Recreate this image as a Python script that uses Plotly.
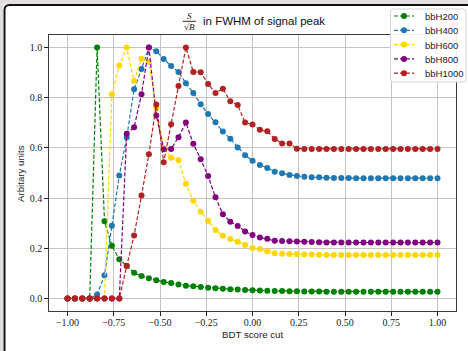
import plotly.graph_objects as go

# BDT score cut grid
bdt_cut = [-1.00, -0.96, -0.92, -0.88, -0.84, -0.80, -0.76, -0.72, -0.68, -0.64,
           -0.60, -0.56, -0.52, -0.48, -0.44, -0.40, -0.36, -0.32, -0.28, -0.24,
           -0.20, -0.16, -0.12, -0.08, -0.04, 0.00, 0.04, 0.08, 0.12, 0.16,
           0.20, 0.24, 0.28, 0.32, 0.36, 0.40, 0.44, 0.48, 0.52, 0.56,
           0.60, 0.64, 0.68, 0.72, 0.76, 0.80, 0.84, 0.88, 0.92, 0.96, 1.00]

# normalised S/sqrt(B) per signal mass point
bbH200 = [0, 0, 0, 0, 1.0, 0.308, 0.21, 0.156, 0.13, 0.102,
          0.089, 0.081, 0.073, 0.066, 0.062, 0.056, 0.051, 0.049, 0.046, 0.043,
          0.041, 0.039, 0.037, 0.036, 0.034, 0.033, 0.032, 0.031, 0.030, 0.030,
          0.029, 0.029, 0.028, 0.028, 0.028, 0.027, 0.027, 0.027, 0.027, 0.027,
          0.027, 0.027, 0.027, 0.027, 0.027, 0.027, 0.027, 0.027, 0.027, 0.027, 0.027]

bbH400 = [0, 0, 0, 0, 0.016, 0.092, 0.29, 0.49, 0.641, 0.834,
          0.914, 1.0, 0.985, 0.954, 0.926, 0.903, 0.858, 0.819, 0.774, 0.735,
          0.702, 0.665, 0.637, 0.602, 0.571, 0.549, 0.532, 0.52, 0.505, 0.499,
          0.492, 0.488, 0.485, 0.483, 0.483, 0.481, 0.480, 0.480, 0.480, 0.479,
          0.479, 0.479, 0.479, 0.479, 0.479, 0.479, 0.479, 0.479, 0.479, 0.479, 0.479]

bbH600 = [0, 0, 0, 0, 0, 0, 0.814, 0.928, 1.0, 0.867,
          0.955, 0.942, 0.761, 0.599, 0.561, 0.551, 0.457, 0.389, 0.346, 0.31,
          0.273, 0.25, 0.237, 0.226, 0.213, 0.201, 0.197, 0.188, 0.18, 0.178,
          0.177, 0.176, 0.175, 0.175, 0.174, 0.173, 0.173, 0.173, 0.173, 0.173,
          0.173, 0.173, 0.173, 0.173, 0.173, 0.173, 0.173, 0.173, 0.173, 0.173, 0.173]

bbH800 = [0, 0, 0, 0, 0, 0, 0, 0, 0.656, 0.682,
          0.814, 1.0, 0.729, 0.595, 0.596, 0.642, 0.701, 0.617, 0.555, 0.488,
          0.403, 0.336, 0.306, 0.289, 0.267, 0.253, 0.243, 0.238, 0.230, 0.229,
          0.228, 0.227, 0.226, 0.225, 0.224, 0.223, 0.223, 0.223, 0.223, 0.223,
          0.223, 0.223, 0.223, 0.223, 0.223, 0.223, 0.223, 0.223, 0.223, 0.223, 0.223]

bbH1000 = [0, 0, 0, 0, 0, 0, 0, 0, 0.129, 0.251,
           0.41, 0.575, 0.773, 0.543, 0.694, 0.847, 1.0, 0.903, 0.902, 0.855,
           0.819, 0.836, 0.786, 0.771, 0.701, 0.693, 0.672, 0.666, 0.636, 0.618,
           0.618, 0.597, 0.596, 0.596, 0.596, 0.596, 0.596, 0.596, 0.596, 0.596,
           0.596, 0.596, 0.596, 0.596, 0.596, 0.596, 0.596, 0.596, 0.596, 0.596, 0.596]

series = [("bbH200", bbH200, "#008000"),
          ("bbH400", bbH400, "#1f77b4"),
          ("bbH600", bbH600, "#FFD700"),
          ("bbH800", bbH800, "#800080"),
          ("bbH1000", bbH1000, "#B22222")]

x_ticks = [-1.0, -0.75, -0.5, -0.25, 0.0, 0.25, 0.5, 0.75, 1.0]
x_ticktext = ["\u22121.00", "\u22120.75", "\u22120.50", "\u22120.25", "0.00",
              "0.25", "0.50", "0.75", "1.00"]
y_ticks = [0.0, 0.2, 0.4, 0.6, 0.8, 1.0]

W, H = 468, 351
L, R, T, B = 49, 12, 35, 40
PW, PH = W - L - R, H - T - B
DASH = "4px,2px"


def px(xpix):
    return (xpix - L) / PW


def py(ypix):
    return (H - B - ypix) / PH


fig = go.Figure()
for name, vals, col in series:
    fig.add_trace(go.Scatter(
        x=bdt_cut, y=vals, name=name, mode="lines+markers",
        line=dict(color=col, width=1.2, dash=DASH),
        marker=dict(color=col, size=6, line=dict(width=0)),
    ))

serif = "Liberation Serif"
sans = "Liberation Sans"

fig.update_layout(
    width=W, height=H,
    margin=dict(l=L, r=R, t=T, b=B, pad=0),
    paper_bgcolor="white", plot_bgcolor="white",
    showlegend=False,
    xaxis=dict(
        range=[-1.1, 1.1], tickvals=x_ticks, ticktext=x_ticktext,
        showgrid=True, gridcolor="#c4c4c4", gridwidth=1, zeroline=False,
        showline=True, mirror=True, linecolor="#3a3a3a", linewidth=1.3,
        ticks="outside", ticklen=3.5, tickwidth=0.8, tickcolor="#222",
        ticklabelstandoff=-2,
        tickfont=dict(family=serif, size=10, color="#222"),
    ),
    yaxis=dict(
        range=[-0.05, 1.05], tickvals=y_ticks, tickformat=".1f",
        showgrid=True, gridcolor="#c4c4c4", gridwidth=1, zeroline=False,
        showline=True, mirror=True, linecolor="#3a3a3a", linewidth=1.3,
        ticks="outside", ticklen=3.5, tickwidth=0.8, tickcolor="#222",
        tickfont=dict(family=serif, size=10, color="#222"),
    ),
)

annotations = [
    # title: S over sqrt(B), then the text
    dict(x=px(189), y=py(15.5), text="<i>S</i>", font=dict(family=serif, size=9, color="#111")),
    dict(x=px(189.5), y=py(27.5), text="\u221a<i>B</i>", font=dict(family=serif, size=9, color="#111")),
    dict(x=px(201), y=py(20.5), xanchor="left", text="in FWHM of signal peak",
         font=dict(family=sans, size=11.5, color="#111")),
    # axis titles
    dict(x=px(252.5), y=py(334.5), text="BDT score cut", font=dict(family=sans, size=9.7, color="#222")),
    dict(x=px(20), y=py(173), text="Arbitary units", textangle=-90,
         font=dict(family=sans, size=9.7, color="#222")),
]

shapes = [
    # fraction bar of the title
    dict(type="line", x0=px(182.7), x1=px(196), y0=py(21.3), y1=py(21.3),
         line=dict(color="#111", width=0.9)),
    # window surround
    dict(type="rect", x0=px(0), x1=px(3), y0=py(0), y1=py(H), fillcolor="#e2dede",
         line=dict(width=0)),
    dict(type="rect", x0=px(0), x1=px(W), y0=py(0), y1=py(4), fillcolor="#e2dede",
         line=dict(width=0)),
    dict(type="path",
         path=f"M {px(4.5)},{py(H)} L {px(4.5)},{py(10)} Q {px(4.5)},{py(5)} {px(9.5)},{py(5)} L {px(W)},{py(5)}",
         line=dict(color="#111", width=2)),
]

# legend box (rounded) with one row per series
lx0, lx1, ly0, ly1, rr = 390.5, 466, 9, 82, 3
shapes.append(dict(
    type="path",
    path=(f"M {px(lx0 + rr)},{py(ly0)} L {px(lx1 - rr)},{py(ly0)} "
          f"Q {px(lx1)},{py(ly0)} {px(lx1)},{py(ly0 + rr)} L {px(lx1)},{py(ly1 - rr)} "
          f"Q {px(lx1)},{py(ly1)} {px(lx1 - rr)},{py(ly1)} L {px(lx0 + rr)},{py(ly1)} "
          f"Q {px(lx0)},{py(ly1)} {px(lx0)},{py(ly1 - rr)} L {px(lx0)},{py(ly0 + rr)} "
          f"Q {px(lx0)},{py(ly0)} {px(lx0 + rr)},{py(ly0)} Z"),
    fillcolor="rgba(255,255,255,0.92)", line=dict(color="#d4d4d4", width=1)))
row_y0, row_step = 16, 14.3
for k, (name, _, col) in enumerate(series):
    yy = row_y0 + k * row_step
    shapes.append(dict(type="line", x0=px(394), x1=px(414), y0=py(yy), y1=py(yy),
                       line=dict(color=col, width=1.2, dash=DASH)))
    shapes.append(dict(type="circle", x0=px(401), x1=px(407), y0=py(yy - 3), y1=py(yy + 3),
                       fillcolor=col, line=dict(width=0)))
    annotations.append(dict(x=px(422.5), y=py(yy + 0.5), xanchor="left", text=name,
                            font=dict(family=sans, size=9.5, color="#222")))

for a in annotations:
    a.update(xref="paper", yref="paper", showarrow=False, yanchor="middle",
             xanchor=a.get("xanchor", "center"))
for s in shapes:
    s.update(xref="paper", yref="paper", layer="above")
fig.update_layout(annotations=annotations, shapes=shapes)

fig.write_html("out.html")
